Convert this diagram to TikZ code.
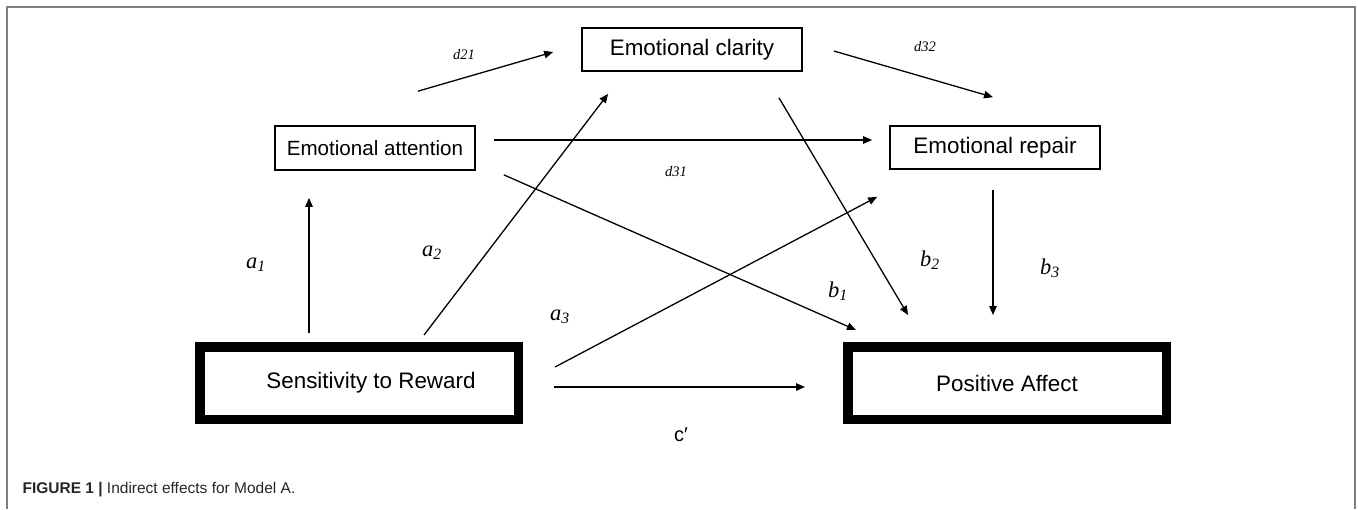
\documentclass[tikz,border=0pt]{standalone}
\usepackage{fontspec}
\setmainfont{Liberation Sans}
\newfontfamily\labelfont{Liberation Serif}
\usetikzlibrary{arrows.meta}

\begin{document}
\begin{tikzpicture}[x=1pt,y=-1pt]
        \tikzstyle{varbox}=[draw, line width=1.7pt, inner sep=0pt, font=\fontsize{22.4}{26}\selectfont]
        \tikzstyle{keybox}=[draw, line width=9.5pt, inner sep=0pt, minimum width=318.5pt, minimum height=72.5pt, font=\fontsize{22.4}{26}\selectfont]
        \tikzstyle{effect}=[line width=1.3pt, -{Triangle[length=9pt,width=7.5pt]}]
        \tikzstyle{coef}=[font=\labelfont\itshape\fontsize{22.5}{26}\selectfont]
        \tikzstyle{dcoef}=[font=\labelfont\itshape\fontsize{14.5}{17}\selectfont]

        \useasboundingbox (0,0) rectangle (1358,509);

        % Frame
        \draw[gray, line width=1.3pt] (7,509) |- (1355,7) -- (1355,509);

        % Variables
        \node[varbox, minimum width=220pt, minimum height=43pt] (clarity) at (692,49.5) {Emotional clarity};
        \node[varbox, minimum width=200pt, minimum height=44pt, font=\fontsize{20.6}{24}\selectfont] (attention) at (375,148) {Emotional attention};
        \node[varbox, minimum width=210pt, minimum height=43pt] (repair) at (995,147.5) {Emotional repair};
        \node[keybox] (reward) at (359,383) {\hspace*{24pt}Sensitivity to Reward};
        \node[keybox] (affect) at (1007,383) {Positive Affect};

        % Paths between mediators
        \draw[effect] ([shift={(43,-34)}]attention.north) -- ([shift={(-28,2.5)}]clarity.west);
        \draw[effect] ([shift={(31,1.5)}]clarity.east) -- ([shift={(-2,-28)}]repair.north);
        \draw[effect] ([shift={(18,-8)}]attention.east) -- ([shift={(-17,-7.5)}]repair.west);

        % Paths to the outcome
        \draw[effect] ([shift={(28,4)}]attention.south east) -- ([shift={(13,-12)}]affect.north west);
        \draw[effect] ([shift={(87,26)}]clarity.south) -- ([shift={(-99,-27)}]affect.north);
        \draw[effect] ([shift={(-2,20)}]repair.south) -- ([shift={(-14,-27)}]affect.north);

        % Paths from the predictor
        \draw[effect] ([shift={(-50,-9)}]reward.north) -- ([shift={(-66,27)}]attention.south);
        \draw[effect] ([shift={(65,-7)}]reward.north) -- ([shift={(27,22)}]clarity.south west);
        \draw[effect] ([shift={(32,-16)}]reward.east) -- ([shift={(-12,27)}]repair.south west);
        \draw[effect] ([shift={(31,4)}]reward.east) -- ([shift={(-38,4)}]affect.west);

        % Coefficient labels
        \node[dcoef] (d21) at (464,55) {d21};
        \node[dcoef] (d32) at (925,47) {d32};
        \node[dcoef] (d31) at (676,172) {d31};
        \node[coef] (a1) at (256,265) {a\textsubscript{1}};
        \node[coef] (a2) at (432,253) {a\textsubscript{2}};
        \node[coef] (a3) at (560,317) {a\textsubscript{3}};
        \node[coef] (b1) at (838,291) {b\textsubscript{1}};
        \node[coef] (b2) at (930,260) {b\textsubscript{2}};
        \node[coef] (b3) at (1050,268) {b\textsubscript{3}};
        \node[font=\fontsize{20}{24}\selectfont] (cprime) at (681,435) {c′};

        % Caption
        \node[anchor=west, font=\fontsize{15.5}{18}\selectfont, text=black!85] (caption) at (19,490) {\textbf{FIGURE 1 |} Indirect effects for Model A.};
\end{tikzpicture}
\end{document}
